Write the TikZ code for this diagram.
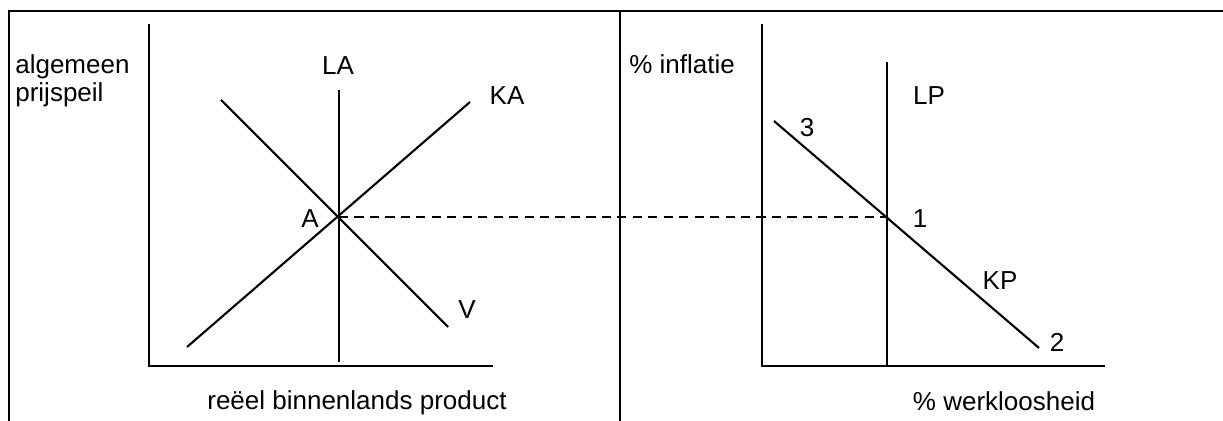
\documentclass[tikz,border=0pt]{standalone}
\usepackage{fontspec}
\setmainfont{Liberation Sans}
\usepackage{tikz}
\usetikzlibrary{positioning}

\begin{document}
\begin{tikzpicture}[
    x=0.02cm, y=-0.02cm,
    frame/.style={draw=black, line width=1.15pt},
    axis/.style={draw=black, line width=1.5pt},
    curve/.style={draw=black, line width=1.2pt},
    guide/.style={draw=black, line width=1.2pt, dash pattern=on 5.2pt off 3.6pt},
    lbl/.style={font=\fontsize{14.8}{16}\selectfont, inner sep=0pt, anchor=base},
    axlbl/.style={lbl, anchor=base west},
]
\useasboundingbox (0,0) rectangle (1223,421);

% ===== Frame =====
\coordinate (fbl) at (9,421);
\coordinate (ftl) at (9,11);
\coordinate (ftr) at (1223,11);
\coordinate (mtop) at (620,11);
\coordinate (mbot) at (620,421);
\draw[frame] (fbl) -- (ftl) -- (ftr);
\draw[frame] (mtop) -- (mbot);

% ===== Left: prijspeil / productie =====
\coordinate (ltop) at (149,24);
\coordinate (lorig) at (149,366);
\coordinate (lend) at (493,366);
\draw[axis] (ltop) -- (lorig) -- (lend);

\coordinate (A) at (339,217);
\coordinate (latop) at (339,90);
\coordinate (labot) at (339,362);
\coordinate (kalo) at (187,347);
\coordinate (kahi) at (470,102);
\coordinate (vhi) at (221,100);
\coordinate (vlo) at (448,327);
\draw[curve] (latop) -- (labot);
\draw[curve] (kalo) -- (kahi);
\draw[curve] (vhi) -- (vlo);

\node[axlbl] (alg) at (15,74) {algemeen};
\node[axlbl] (prijs) at (15,102) {prijspeil};
\node[lbl] (bbp) at (357,410) {reëel binnenlands product};
\node[lbl] (laname) at (338,75) {LA};
\node[lbl] (kaname) at (507,105) {KA};
\node[lbl] (aname) at (310,228) {A};
\node[lbl] (vname) at (467,319) {V};

% ===== Right: Phillipscurve =====
\coordinate (rtop) at (762,24);
\coordinate (rorig) at (762,366);
\coordinate (rend) at (1105,366);
\draw[axis] (rtop) -- (rorig) -- (rend);

\coordinate (P1) at (887,217);
\coordinate (lptop) at (887,62);
\coordinate (lpbot) at (887,366);
\coordinate (kphi) at (774,121);
\coordinate (kplo) at (1039,348);
\draw[curve] (lptop) -- (lpbot);
\draw[curve] (kphi) -- (kplo);

\node[axlbl] (infl) at (629,74) {\% inflatie};
\node[lbl] (werkl) at (1004,411) {\% werkloosheid};
\node[lbl] (lpname) at (929,105) {LP};
\node[lbl] (kpname) at (1000,290) {KP};
\node[lbl] (drie) at (807,137) {3};
\node[lbl] (een) at (920,228) {1};
\node[lbl] (twee) at (1057,352) {2};

% ===== Link A -- 1 =====
\draw[guide] (A) -- (P1);

\end{tikzpicture}
\end{document}
